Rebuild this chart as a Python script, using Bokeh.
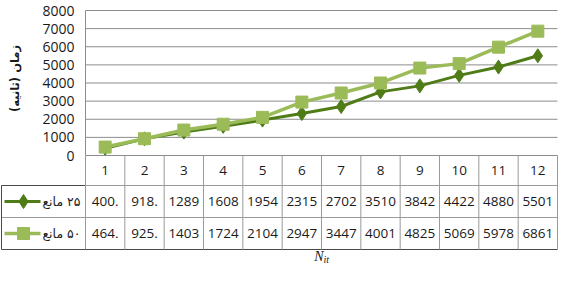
import math
from bokeh.plotting import figure
from bokeh.models import Range1d
from bokeh.core.properties import value
from bokeh.embed import file_html
from bokeh.resources import INLINE

# ---- data ----
categories = [1, 2, 3, 4, 5, 6, 7, 8, 9, 10, 11, 12]
s25 = [400.6, 918.4, 1289, 1608, 1954, 2315, 2702, 3510, 3842, 4422, 4880, 5501]
s50 = [464.3, 925.7, 1403, 1724, 2104, 2947, 3447, 4001, 4825, 5069, 5978, 6861]
series_names = ["\u200F۲۵ مانع", "\u200F۵۰ مانع"]
y_ticks = [0, 1000, 2000, 3000, 4000, 5000, 6000, 7000, 8000]
y_label = "\u200Fزمان (ثانیه)\u200F"
x_title_main, x_title_sub = "N", "it"

DARK = "#4f7c17"
LIGHT = "#9bbb59"
GRID = "#8c8c8c"
INNER = "#9a9a9a"
OUTER = "#4a4a4a"
TXT = "#1a1a1a"
NUMFONT = "Open Sans"
FA_FONT = "DejaVu Sans"

# ---- layout geometry (page pixels) ----
W, H = 558, 265
LEFT, TOP = 8, 8
COL0 = 93          # left edge of first category column
COLEND = 565       # right edge of last column
colw = (COLEND - COL0) / 12.0
Y_TOP_PX, Y_ZERO_PX = 18, 163
ky = (Y_ZERO_PX - Y_TOP_PX) / float(y_ticks[-1])


def px(p):
    return 0.5 + (p - COL0) / colw


def py(p):
    return (Y_ZERO_PX - p) / ky


p = figure(width=W, height=H,
           x_range=Range1d(px(LEFT), px(LEFT + W)),
           y_range=Range1d(py(TOP + H), py(TOP)),
           output_backend="svg", toolbar_location=None,
           x_axis_location=None, y_axis_location=None,
           min_border=0, min_border_left=0, min_border_right=0,
           min_border_top=0, min_border_bottom=0)
p.outline_line_color = None
p.grid.visible = False

x_first = categories[0] - 0.5
x_last = categories[-1] + 0.5

# ---- chart: grid, axis, tick labels, axis title ----
p.segment(x0=[x_first] * len(y_ticks), y0=y_ticks, x1=[x_last] * len(y_ticks), y1=y_ticks,
          color=GRID, line_width=1)
p.segment(x0=[x_first], y0=[y_ticks[0]], x1=[x_first], y1=[y_ticks[-1]], color=GRID, line_width=1)
p.text(x=[px(82)] * len(y_ticks), y=y_ticks, text=[str(t) for t in y_ticks],
       text_align="right", text_baseline="middle", text_font=value(NUMFONT),
       text_font_size="14px", text_color=TXT)
p.text(x=[px(22)], y=[py(86)], text=[y_label], angle=math.pi / 2,
       text_align="center", text_baseline="middle", text_font=value(FA_FONT),
       text_font_size="11.5px", text_font_style="bold", text_color=TXT)

# ---- series ----
p.line(categories, s25, color=DARK, line_width=3)
p.scatter(categories, s25, marker="diamond", size=14, color=DARK)
p.line(categories, s50, color=LIGHT, line_width=3.5)
p.scatter(categories, s50, marker="square", size=12, color=LIGHT)

# ---- data table ----
r1, r2, r3 = py(193), py(225), py(257)
xl = px(9)
p.segment(x0=[x_first, xl], y0=[r1, r2], x1=[x_last, x_last], y1=[r1, r2], color=INNER, line_width=1)
p.segment(x0=[xl], y0=[r1], x1=[x_first], y1=[r1], color=OUTER, line_width=1)
p.segment(x0=[xl, xl], y0=[r1, r3], x1=[xl, x_last], y1=[r3, r3], color=OUTER, line_width=1)
vx = [c - 0.5 for c in categories] + [x_last]
p.segment(x0=vx, y0=[0] * len(vx), x1=vx, y1=[r3] * len(vx), color=INNER, line_width=1)

lab25 = [("%.1f" % v)[:4] for v in s25]
lab50 = [("%.1f" % v)[:4] for v in s50]
for yy, labels in ((py(178), [str(c) for c in categories]), (py(209), lab25), (py(241), lab50)):
    p.text(x=categories, y=[yy] * len(categories), text=labels,
           text_align="center", text_baseline="middle", text_font=value(NUMFONT),
           text_font_size="13.5px", text_color=TXT)

ym1, ym2 = py(209), py(241)
p.line([px(12), px(48)], [ym1, ym1], color=DARK, line_width=3)
p.scatter([px(31)], [ym1], marker="diamond", size=14, color=DARK)
p.line([px(12), px(48)], [ym2, ym2], color=LIGHT, line_width=3.5)
p.scatter([px(31)], [ym2], marker="square", size=12, color=LIGHT)
p.text(x=[px(88), px(88)], y=[ym1, ym2], text=series_names, text_align="right",
       text_baseline="middle", text_font=value(FA_FONT), text_font_size="12.5px", text_color=TXT)

# ---- x axis title N_it ----
p.text(x=[px(331)], y=[py(264)], text=[x_title_main], text_align="right", text_baseline="middle",
       text_font=value("Liberation Serif"), text_font_style="italic", text_font_size="14px",
       text_color=TXT)
p.text(x=[px(331)], y=[py(267)], text=[x_title_sub], text_align="left", text_baseline="middle",
       text_font=value("Liberation Serif"), text_font_style="italic", text_font_size="10px",
       text_color=TXT)

open("out.html", "w").write(file_html(p, INLINE))
